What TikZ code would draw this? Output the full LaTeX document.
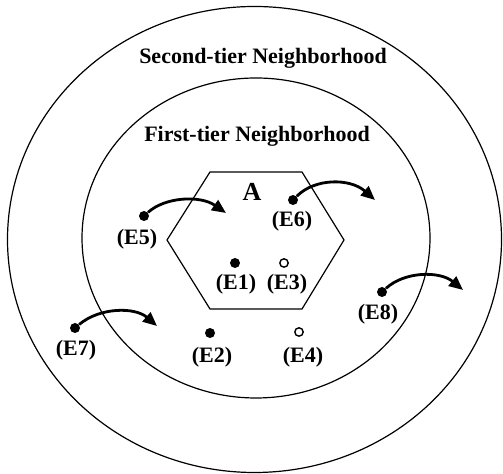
\documentclass[tikz,border=0pt]{standalone}
\usepackage{fontspec}
\setmainfont{Liberation Serif}
\usetikzlibrary{arrows.meta}
\begin{document}
\begin{tikzpicture}[x=0.5pt, y=-0.5pt,
        dot/.style={circle, fill, inner sep=0pt, minimum size=5pt},
        opendot/.style={circle, draw, line width=0.7pt, inner sep=0pt, minimum size=4.2pt},
        lbl/.style={font=\fontsize{11}{13}\selectfont\bfseries, inner sep=0pt},
        move/.style={-{Triangle[length=7pt,width=6pt]}, line width=1.4pt}
      ]
      \useasboundingbox (0,0) rectangle (503,474);
      \draw[line width=0.6pt] (254.5,239.5) ellipse [x radius=247, y radius=233];
      \draw[line width=0.6pt] (256,238) ellipse [x radius=174, y radius=160];
      \draw[line width=0.6pt] (210,172) -- (302,172) -- (344,240) -- (302,309) -- (210,309) -- (167,240) -- cycle;

      \node[lbl] (secondtier) at (263,58) {Second-tier Neighborhood};
      \node[lbl] (firsttier) at (257,136) {First-tier Neighborhood};
      \node[lbl, font=\fontsize{13}{15}\selectfont\bfseries] (a) at (252,192) {A};

      \node[dot] (e1) at (235,263) {};
      \node[opendot] (e3) at (284,263) {};
      \node[dot] (e2) at (210,333) {};
      \node[opendot] (e4) at (299,332) {};
      \node[dot] (e5) at (144,216) {};
      \node[dot] (e6) at (293,200) {};
      \node[dot] (e7) at (75,328) {};
      \node[dot] (e8) at (382,292) {};

      \node[lbl] (l1) at (236,284) {(E1)};
      \node[lbl] (l3) at (287,284) {(E3)};
      \node[lbl] (l2) at (212,357) {(E2)};
      \node[lbl] (l4) at (303,357) {(E4)};
      \node[lbl] (l5) at (137,239) {(E5)};
      \node[lbl] (l6) at (292,221) {(E6)};
      \node[lbl] (l7) at (76,350) {(E7)};
      \node[lbl] (l8) at (378,314) {(E8)};

      \coordinate (t5) at (226,213);
      \coordinate (t6) at (375,200);
      \coordinate (t7) at (157,326);
      \coordinate (t8) at (463,290);

      \draw[move] (e5) .. controls (165,197) and (200,195) .. (t5);
      \draw[move] (e6) .. controls (315,178) and (350,178) .. (t6);
      \draw[move] (e7) .. controls (100,307) and (135,307) .. (t7);
      \draw[move] (e8) .. controls (405,271) and (440,271) .. (t8);
    \end{tikzpicture}
\end{document}
